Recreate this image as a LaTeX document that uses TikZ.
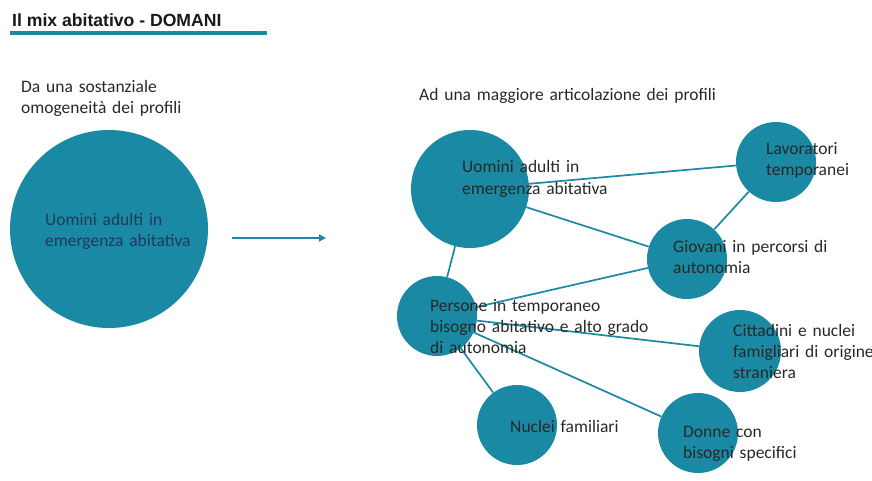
\documentclass[tikz,border=0pt]{standalone}
\usepackage{fontspec}
\setmainfont{Carlito}
\newfontfamily\titlefont{Liberation Sans}
\usetikzlibrary{arrows.meta}
\definecolor{teal1}{RGB}{26,137,164}
\definecolor{navytxt}{RGB}{31,58,92}
\definecolor{darktxt}{RGB}{40,40,40}
\tikzset{
  bubble/.style={circle, fill=teal1, inner sep=0pt, minimum size=#1},
  link/.style={draw=teal1, line width=1.7pt},
  lbl/.style={anchor=base west, inner sep=0pt, text width=400pt, align=left,
    font=\fontsize{17.5}{21}\selectfont, text=darktxt},
}
\begin{document}
\begin{tikzpicture}[x=1pt,y=-1pt]
\useasboundingbox (0,0) rectangle (872,481);
% title
\node[anchor=base west, inner sep=0pt, font=\titlefont\bfseries\fontsize{17.6}{20}\selectfont, text=black!90] (title) at (12,27) {Il mix abitativo - DOMANI};
\coordinate (ulA) at (10,33);
\coordinate (ulB) at (267,33);
\draw[teal1, line width=3.5pt] (ulA) -- (ulB);
% left side
\node[lbl] (leftlbl) at (21,93) {Da una sostanziale\\omogeneità dei profili};
\node[bubble=198pt] (big) at (109,229) {};
\node[lbl, text=navytxt] (bigtxt) at (45,225) {Uomini adulti in\\emergenza abitativa};
\coordinate (arA) at (232,238);
\coordinate (arB) at (326,238);
\draw[teal1, line width=1.8pt, -{Triangle[length=7pt,width=7pt]}] (arA) -- (arB);
% right side
\node[lbl] (rightlbl) at (419,101) {Ad una maggiore articolazione dei profili};
\node[bubble=118pt] (uom) at (470,189) {};
\node[bubble=80pt] (lav) at (776,162) {};
\node[bubble=80pt] (gio) at (687,259) {};
\node[bubble=80pt] (per) at (437,316) {};
\node[bubble=82pt] (cit) at (740,351) {};
\node[bubble=80pt] (nuc) at (517,425) {};
\node[bubble=80pt] (don) at (698,433) {};
% connectors
\draw[link] (uom) -- (lav);
\draw[link] (uom) -- (gio);
\draw[link] (uom) -- (per);
\draw[link] (lav) -- (gio);
\draw[link] (gio) -- (per);
\draw[link] (per) -- (cit);
\draw[link] (per) -- (nuc);
\draw[link] (per) -- (don);
% labels
\node[lbl] (uomtxt) at (462,173) {Uomini adulti in\\emergenza abitativa};
\node[lbl] (lavtxt) at (766,155) {Lavoratori\\temporanei};
\node[lbl] (giotxt) at (673,252) {Giovani in percorsi di\\autonomia};
\node[lbl] (pertxt) at (430,311) {Persone in temporaneo\\bisogno abitativo e alto grado\\di autonomia};
\node[lbl] (cittxt) at (733,336) {Cittadini e nuclei\\famigliari di origine\\straniera};
\node[lbl] (nuctxt) at (510,432) {Nuclei familiari};
\node[lbl] (dontxt) at (683,437) {Donne con\\bisogni specifici};
\end{tikzpicture}
\end{document}
